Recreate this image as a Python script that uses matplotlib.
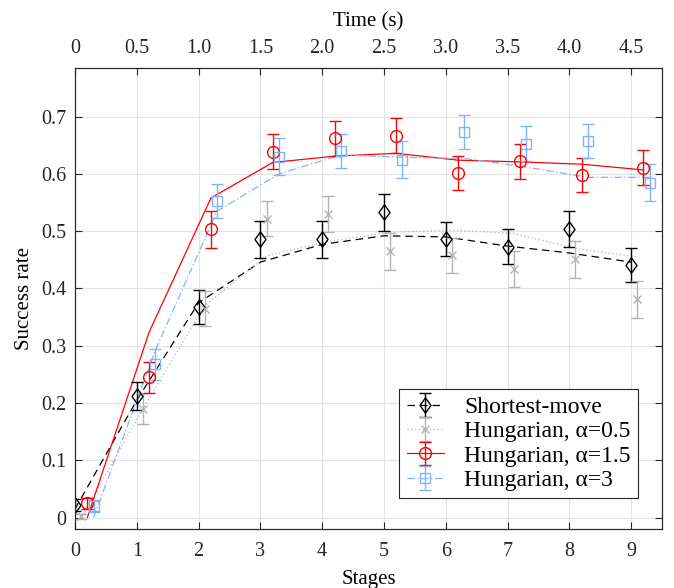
import matplotlib
matplotlib.use('Agg')
import numpy as np
import matplotlib.pyplot as plt

# stages and time labels
stages = np.arange(10)
time_labels = ['0', '0.5', '1.0', '1.5', '2.0', '2.5', '3.0', '3.5', '4.0', '4.5']

# measured success rates (markers) and error bars
shortest = [0.022, 0.212, 0.368, 0.486, 0.486, 0.533, 0.486, 0.473, 0.504, 0.441]
shortest_err = [0.01, 0.025, 0.03, 0.032, 0.032, 0.032, 0.03, 0.03, 0.032, 0.03]
hung05 = [0.002, 0.19, 0.365, 0.522, 0.53, 0.465, 0.458, 0.434, 0.451, 0.381]
hung05_err = [0.005, 0.027, 0.03, 0.031, 0.032, 0.032, 0.031, 0.032, 0.032, 0.032]
hung15 = [0.025, 0.245, 0.503, 0.639, 0.662, 0.667, 0.602, 0.622, 0.598, 0.611]
hung15_err = [0.01, 0.027, 0.032, 0.03, 0.03, 0.03, 0.03, 0.03, 0.03, 0.03]
hung3 = [0.02, 0.268, 0.553, 0.63, 0.64, 0.625, 0.673, 0.653, 0.657, 0.585]
hung3_err = [0.01, 0.027, 0.03, 0.032, 0.03, 0.032, 0.03, 0.03, 0.03, 0.032]

# smoothed curves
shortest_fit = [0.015, 0.205, 0.375, 0.446, 0.477, 0.492, 0.49, 0.474, 0.462, 0.446]
hung05_fit = [0.0, 0.19, 0.37, 0.457, 0.482, 0.498, 0.502, 0.496, 0.47, 0.455]
hung15_fit = [0.0, 0.324, 0.558, 0.62, 0.631, 0.636, 0.624, 0.621, 0.617, 0.607]
hung3_fit = [0.0, 0.292, 0.535, 0.6, 0.633, 0.629, 0.627, 0.612, 0.594, 0.594]

plt.rcParams['font.family'] = ['Liberation Serif', 'DejaVu Serif']

fig = plt.figure(figsize=(6.74, 5.88), dpi=100)
ax = fig.add_axes([0.1113, 0.1003, 0.8709, 0.7841])

# matlab-like diamond (a bit wider than matplotlib's thin diamond)
diamond = [(0, 1), (0.72, 0), (0, -1), (-0.72, 0), (0, 1)]

series = [
    (shortest, shortest_err, shortest_fit, 0.0, 'black', diamond, 11, (0, (6, 4)), 'Shortest-move'),
    (hung05, hung05_err, hung05_fit, 0.1, '#b3b3b3', 'x', 6, (0, (1, 2)), 'Hungarian, α=0.5'),
    (hung15, hung15_err, hung15_fit, 0.2, '#ff0000', 'o', 8.5, '-', 'Hungarian, α=1.5'),
    (hung3, hung3_err, hung3_fit, 0.3, '#80b3ff', 's', 7, (0, (6, 2, 1, 2)), 'Hungarian, α=3'),
]

for vals, err, fit, off, col, mk, ms, ls, lab in series:
    x = stages + off
    ax.plot(x, fit, color=col, linestyle=ls, linewidth=0.9, zorder=2)
    ax.errorbar(x, vals, yerr=err, fmt='none', ecolor=col,
                elinewidth=1.0, capsize=4.5, capthick=1.0, zorder=3)
    ax.plot(x, vals, linestyle='none', marker=mk, markersize=ms,
            markerfacecolor='none', markeredgecolor=col, markeredgewidth=1.0, zorder=4)

# legend handles drawn with the line style of each series
handles = []
for vals, err, fit, off, col, mk, ms, ls, lab in series:
    h = ax.errorbar([np.nan], [np.nan], yerr=[0.1], marker=mk, color=col, ecolor=col,
                    markersize=ms, markerfacecolor='none', markeredgecolor=col,
                    markeredgewidth=1.0, elinewidth=1.0, capsize=4.5, capthick=1.0,
                    linestyle=ls, linewidth=0.9, label=lab)
    handles.append(h)

leg = ax.legend(handles=handles, loc='lower right', bbox_to_anchor=(0.959, 0.067),
                borderaxespad=0, fontsize=17, fancybox=False, framealpha=1,
                edgecolor='#262626', handlelength=1.6, handletextpad=0.85,
                labelspacing=0.12, borderpad=0.3)
leg.get_frame().set_linewidth(0.8)

ax.set_xlim(0, 9.5)
ax.set_ylim(-0.02, 0.785)
ax.set_xticks(stages)
ax.set_yticks(np.arange(0, 0.71, 0.1))
ax.set_yticklabels(['0', '0.1', '0.2', '0.3', '0.4', '0.5', '0.6', '0.7'])
ax.grid(True, color='#e3e3e3', linewidth=0.8)
ax.set_axisbelow(True)
ax.tick_params(direction='in', length=5, width=0.8, labelsize=14.5,
               top=False, right=True, colors='#262626', pad=6)
ax.tick_params(axis='x', pad=9)
for sp in ax.spines.values():
    sp.set_color('#262626')
    sp.set_linewidth(0.8)
ax.set_xlabel('Stages', fontsize=15, labelpad=7)
ax.set_ylabel('Success rate', fontsize=15, labelpad=5)

# time axis on top
ax2 = ax.twiny()
ax2.set_xlim(ax.get_xlim())
ax2.set_xticks(stages)
ax2.set_xticklabels(time_labels)
ax2.tick_params(direction='in', length=5, width=0.8, labelsize=14.5, colors='#262626', pad=7)
for sp in ax2.spines.values():
    sp.set_color('#262626')
    sp.set_linewidth(0.8)
ax2.set_xlabel('Time (s)', fontsize=15, labelpad=9)

fig.savefig('out.png', dpi=100)
